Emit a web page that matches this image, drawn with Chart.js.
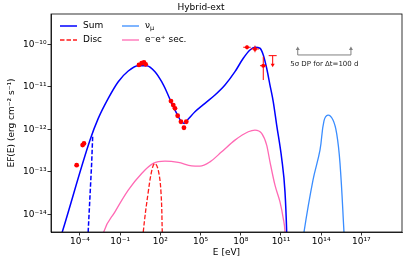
<!DOCTYPE html>
<html>
<head>
<meta charset="utf-8">
<script src="https://cdn.jsdelivr.net/npm/chart.js@4.4.1/dist/chart.umd.min.js"></script>
<style>
  html, body { margin: 0; padding: 0; background: #fff; }
</style>
</head>
<body>
<canvas id="sedChart" width="407" height="263"></canvas>
<script>
// all values are log10: E in eV, EF(E) in erg cm^-2 s^-1
const sumLogE = [-5.40, -5.32, -3.254, -2.634, -1.888, -1.142, -0.396, 0.351, 0.978, 1.597, 2.097, 2.470, 2.843, 3.216, 3.537, 3.784, 4.082, 4.582, 5.328, 6.075, 6.821, 7.567, 8.187, 8.687, 9.060, 9.433, 9.679, 9.933, 10.179, 10.425, 10.679, 11.052, 11.299, 11.425, 11.448];
const sumLogF = [-14.49, -14.41, -12.254, -11.741, -11.271, -10.880, -10.628, -10.504, -10.504, -10.645, -10.880, -11.115, -11.388, -11.624, -11.805, -11.859, -11.758, -11.586, -11.388, -11.193, -10.958, -10.645, -10.329, -10.134, -10.071, -10.094, -10.252, -10.565, -10.958, -11.351, -11.899, -12.682, -13.468, -14.409, -14.73];

const sumLowLogE = [-3.052, -3.127, -3.254, -3.381, -3.403];
const sumLowLogF = [-12.174, -12.800, -13.586, -14.369, -14.60];

const discLogE = [0.687, 0.724, 1.097, 1.396, 1.597, 1.843, 2.045, 2.142, 2.157];
const discLogF = [-14.72, -14.409, -13.468, -12.918, -12.800, -12.958, -13.468, -14.409, -14.72];

const numuLogE = [12.64, 12.716, 13.388, 13.910, 14.209, 14.507, 14.881, 15.157, 15.403, 15.701, 15.74];
const numuLogF = [-14.72, -14.416, -13.193, -12.487, -11.80, -11.664, -11.78, -12.10, -12.793, -14.416, -14.72];

const secLogE = [-2.433, -2.261, -1.388, -0.396, 0.604, 1.470, 2.343, 3.336, 4.336, 4.955, 5.701, 6.575, 7.567, 8.560, 9.060, 9.560, 9.933, 10.179, 10.552, 10.925, 11.172, 11.299, 11.336];
const secLogF = [-14.72, -14.447, -13.939, -13.428, -13.035, -12.800, -12.746, -12.776, -12.856, -12.864, -12.762, -12.527, -12.252, -12.056, -12.016, -12.094, -12.369, -12.762, -13.311, -13.704, -14.094, -14.409, -14.72];

const obsLogE = [-4.246, -3.80, -3.70, 0.403, 0.604, 0.776, 0.903, 2.791, 2.963, 3.090, 3.291, 3.537, 3.761, 3.933];
const obsLogF = [-12.840, -12.369, -12.329, -10.487, -10.447, -10.424, -10.471, -11.334, -11.428, -11.506, -11.680, -11.821, -11.962, -11.821];

const fermiLogE = [8.463, 9.060, 9.679];
const fermiLogF = [-10.071, -10.111, -10.504];
const fermiXLo = [8.187, 8.761, 9.433];
const fermiXHi = [8.739, 9.358, 9.933];
const fermiYLo = [-10.12, -10.188, -10.840];
const fermiYHi = [-10.03, -10.033, -10.292];

const ulLogE = 10.381, ulLogF = -10.268, ulTipLogF = -10.527;

const dpLogE = [12.25, 16.22];
const dpBaseLogF = -10.252, dpTipLogF = -10.064, dpTextLogF = -10.47;
const dpText = '5σ DP for Δt=100 d';

const xTickExp = [-4, -1, 2, 5, 8, 11, 14, 17];
const yTickExp = [-14, -13, -12, -11, -10];

const sup = s => String(s).replace(/[-0-9]/g, c => '⁻⁰¹²³⁴⁵⁶⁷⁸⁹'['-0123456789'.indexOf(c)]);
const pts = (le, lf) => le.map((e, i) => ({ x: 10 ** e, y: 10 ** lf[i] }));
const X = (s, v) => s.getPixelForValue(10 ** v);

Chart.defaults.font.family = 'DejaVu Sans';
Chart.defaults.color = '#000';

const sedExtras = {
    id: 'sedExtras',
    afterDatasetsDraw(chart) {
        const { ctx, chartArea: a, scales: { x, y } } = chart;
        ctx.save();
        // Fermi error bars
        ctx.strokeStyle = '#ff0000';
        ctx.lineWidth = 1;
        fermiLogE.forEach((e, i) => {
            const px = X(x, e), py = X(y, fermiLogF[i]);
            ctx.beginPath();
            ctx.moveTo(X(x, fermiXLo[i]), py);
            ctx.lineTo(X(x, fermiXHi[i]), py);
            ctx.moveTo(px, X(y, fermiYLo[i]));
            ctx.lineTo(px, X(y, fermiYHi[i]));
            ctx.stroke();
        });
        // upper limit
        const ux = X(x, ulLogE), uy = X(y, ulLogF), ut = X(y, ulTipLogF);
        ctx.beginPath();
        ctx.moveTo(ux - 4, uy); ctx.lineTo(ux + 4, uy);
        ctx.moveTo(ux, uy); ctx.lineTo(ux, ut - 2);
        ctx.stroke();
        ctx.fillStyle = '#ff0000';
        ctx.beginPath();
        ctx.moveTo(ux - 2, ut - 3); ctx.lineTo(ux + 2, ut - 3); ctx.lineTo(ux, ut + 0.5);
        ctx.closePath(); ctx.fill();

        // 5 sigma DP bracket
        ctx.strokeStyle = '#808080';
        ctx.fillStyle = '#808080';
        const by = X(y, dpBaseLogF), ty = X(y, dpTipLogF);
        const x0 = X(x, dpLogE[0]), x1 = X(x, dpLogE[1]);
        ctx.beginPath();
        ctx.moveTo(x0, ty + 2); ctx.lineTo(x0, by); ctx.lineTo(x1, by); ctx.lineTo(x1, ty + 2);
        ctx.stroke();
        [x0, x1].forEach(ax => {
            ctx.beginPath();
            ctx.moveTo(ax - 2, ty + 3); ctx.lineTo(ax + 2, ty + 3); ctx.lineTo(ax, ty - 0.5);
            ctx.closePath(); ctx.fill();
        });
        ctx.fillStyle = '#222';
        ctx.font = '7px "DejaVu Sans"';
        ctx.textAlign = 'center';
        ctx.textBaseline = 'middle';
        ctx.fillText(dpText, (x0 + x1) / 2, X(y, dpTextLogF));

        // axes frame
        ctx.strokeStyle = '#000';
        ctx.lineWidth = 0.8;
        ctx.strokeRect(a.left, a.top, a.right - a.left, a.bottom - a.top);

        // legend (two columns, inside the axes)
        const items = chart.data.datasets.filter(d => d.inLegend);
        ctx.textAlign = 'left';
        items.forEach((d, i) => {
            const lx = a.left + 9 + Math.floor(i / 2) * 62;
            const ly = a.top + 12 + (i % 2) * 14;
            ctx.strokeStyle = d.borderColor;
            ctx.lineWidth = d.borderWidth;
            ctx.setLineDash(d.borderDash || []);
            ctx.beginPath(); ctx.moveTo(lx, ly); ctx.lineTo(lx + 17, ly); ctx.stroke();
            ctx.setLineDash([]);
            ctx.fillStyle = '#000';
            const parts = d.label.split('_');
            ctx.font = '9px "DejaVu Sans"';
            ctx.fillText(parts[0], lx + 23, ly);
            if (parts[1]) {
                const w = ctx.measureText(parts[0]).width;
                ctx.font = '6.5px "DejaVu Sans"';
                ctx.fillText(parts[1], lx + 23 + w, ly + 2.5);
            }
        });
        ctx.restore();
    }
};

const lineDs = (label, le, lf, color, width, extra) => Object.assign({
    label, data: pts(le, lf), showLine: true, borderColor: color, backgroundColor: color,
    borderWidth: width, pointRadius: 0, fill: false, cubicInterpolationMode: 'monotone'
}, extra);

new Chart(document.getElementById('sedChart').getContext('2d'), {
    type: 'scatter',
    data: {
        datasets: [
            { label: 'data', data: pts(obsLogE, obsLogF), backgroundColor: '#ff0000', borderWidth: 0, pointRadius: 2.4 },
            { label: 'fermi', data: pts(fermiLogE, fermiLogF), backgroundColor: '#ff0000', borderWidth: 0, pointRadius: 2 },
            lineDs('Sum', sumLogE, sumLogF, '#0000ff', 1.5, { inLegend: true }),
            lineDs('Disc', discLogE, discLogF, '#ff1a1a', 1.3, { inLegend: true, borderDash: [4.5, 2], cubicInterpolationMode: 'default', tension: 0.4 }),
            lineDs('ν_μ', numuLogE, numuLogF, '#3a8dff', 1.3, { inLegend: true, cubicInterpolationMode: 'default', tension: 0.4 }),
            lineDs('e⁻e⁺ sec.', secLogE, secLogF, '#ff69b4', 1.3, { inLegend: true }),
            lineDs('low', sumLowLogE, sumLowLogF, '#0000ff', 1.5, { borderDash: [4.5, 2], cubicInterpolationMode: 'default', tension: 0 })
        ]
    },
    options: {
        responsive: false,
        animation: false,
        layout: { padding: { left: 0, right: 5, top: 0, bottom: 0 } },
        plugins: {
            legend: { display: false },
            tooltip: { enabled: false },
            title: {
                display: true,
                text: 'Hybrid-ext',
                font: { size: 9, weight: 'normal' },
                padding: { top: 2, bottom: 1.2 }
            }
        },
        scales: {
            x: {
                type: 'logarithmic',
                min: 10 ** -6.16,
                max: 10 ** 20.03,
                afterBuildTicks: s => { s.ticks = xTickExp.map(e => ({ value: 10 ** e })); },
                afterFit: s => { s.height = 31; },
                ticks: {
                    font: { size: 9 }, padding: 1, maxRotation: 0, autoSkip: false,
                    callback: v => '10' + sup(Math.round(Math.log10(v)))
                },
                grid: { drawOnChartArea: false, drawTicks: true, tickLength: 3.5, color: '#000', lineWidth: 0.8 },
                border: { display: true, color: '#000', width: 0.8 },
                title: { display: true, text: 'E [eV]', font: { size: 9 }, padding: { top: 0, bottom: 5 } }
            },
            y: {
                type: 'logarithmic',
                min: 10 ** -14.41,
                max: 10 ** -9.29,
                afterBuildTicks: s => { s.ticks = yTickExp.map(e => ({ value: 10 ** e })); },
                afterFit: s => { s.width = 51; },
                ticks: {
                    font: { size: 9 }, padding: 1, autoSkip: false,
                    callback: v => '10' + sup(Math.round(Math.log10(v)))
                },
                grid: { drawOnChartArea: false, drawTicks: true, tickLength: 3.5, color: '#000', lineWidth: 0.8 },
                border: { display: true, color: '#000', width: 0.8 },
                title: { display: true, text: 'EF(E) (erg cm⁻² s⁻¹)', font: { size: 9 }, padding: { top: 6, bottom: 0 } }
            }
        }
    },
    plugins: [sedExtras]
});
</script>
</body>
</html>
